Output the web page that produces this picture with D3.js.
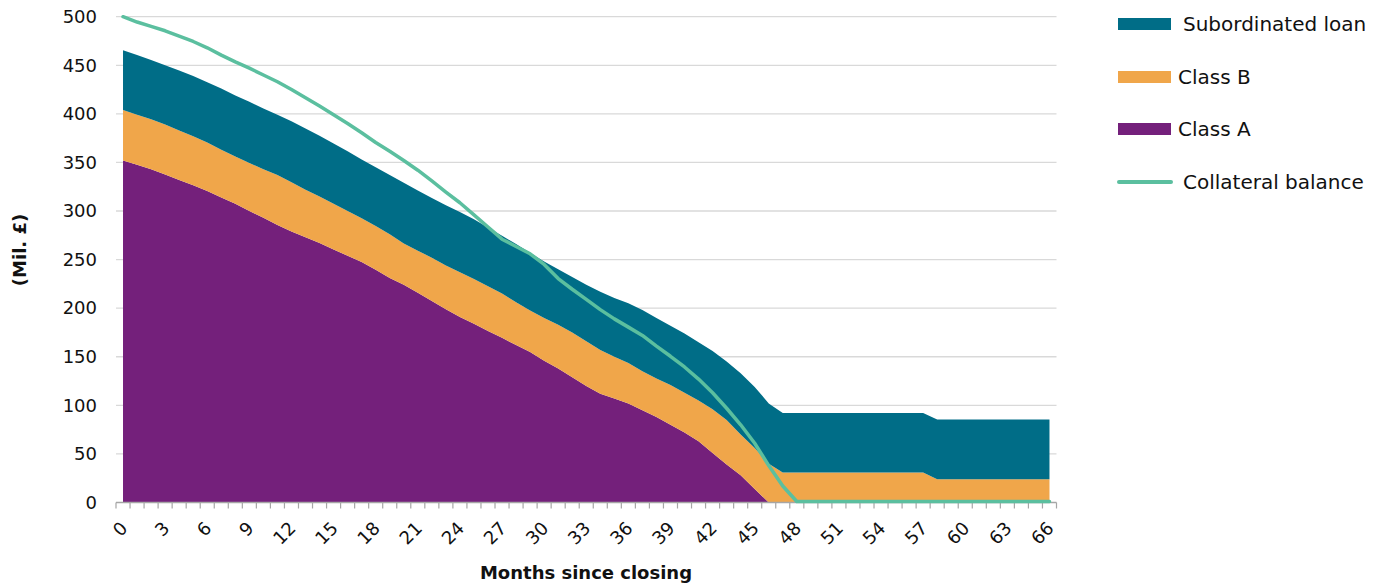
<!DOCTYPE html>
<html>
<head>
<meta charset="utf-8">
<script src="https://cdn.jsdelivr.net/npm/d3@7"></script>
<style>
  html, body { margin: 0; padding: 0; background: #fff; }
  svg { display: block; font-family: "DejaVu Sans", sans-serif; }
</style>
</head>
<body>
<svg id="chart" width="1387" height="586"></svg>
<script>
// ---- Data (Mil. £), months since closing 0..66 ----
const months = d3.range(0, 67);
const classA = [352,347.5,343,337.5,332,326.5,320.5,314,307.5,300,293,285.5,279,273,267,260.5,254,247.5,239.5,231,
  224,216,207.5,199,191,184,176.5,169.5,162,155,146,138,129,120,112,107,102,95,88,80,
  72,63,51,39,28,14,0,0,0,0,0,0,0,0,0,0,0,0,0,0,0,0,0,0,0,0,0];
const classB = [52,51.5,51.5,51.5,51,50.5,50,49,48.5,49.5,50,51.5,50.5,49,48,47,46,45,45,45,
  42.5,43,44.5,45,46,46,46,45.5,44,42.5,44,45,46,46,45,43,41.5,40,39.5,41,
  41,42,45,46,42,42,40,31,31,31,31,31,31,31,31,31,31,31,24,24,24,24,24,24,24,24,24];
const subLoan = [61.5,61.5,61,61,61.5,62,62,63,63,63,62.5,62,63,63,62.5,62,61.5,60.5,60.5,61,
  62.5,62,61.5,62,62,61.5,60.5,59.5,60,59.5,58,57,57,58,60,60.5,61.5,63,62.5,61,
  61,60,60,60,63,63,62,61,61,61,61,61,61,61,61,61,61,61,61.5,61.5,61.5,61.5,61.5,61.5,61.5,61.5,61.5];
const collateral = [500,494.5,490,485.5,480,474.5,468,460.5,453.5,447,440,433,425,416.5,408,399,390,380.5,370.5,361.5,
  352,342,331,319.5,308.5,296,283.5,271,263.5,256,245,230.5,219.5,209,198.5,189,180.5,172,161,150.5,
  139.5,127,113,97,80,61,38,17,1,1,1,1,1,1,1,1,1,1,1,1,1,1,1,1,1,1,1];
const yTicks = [0,50,100,150,200,250,300,350,400,450,500];
const xTickLabels = d3.range(0, 67, 3);
const seriesKeys = ["Class A", "Class B", "Subordinated loan"];
const seriesColors = {"Class A": "#74207b", "Class B": "#f0a64a", "Subordinated loan": "#006d87"};
const lineColor = "#5bbf9f";

// ---- Build table ----
const table = months.map((m, i) => ({
  month: m, "Class A": classA[i], "Class B": classB[i], "Subordinated loan": subLoan[i], collateral: collateral[i]
}));

const svg = d3.select("#chart");
const x = d3.scaleLinear().domain([-0.5, 66.5]).range([116, 1056.5]);
const y = d3.scaleLinear().domain([0, 500]).range([502.5, 16.7]);

// gridlines
svg.append("g").selectAll("line").data(yTicks.filter(d => d > 0)).join("line")
  .attr("x1", x(-0.5)).attr("x2", x(66.5))
  .attr("y1", d => y(d)).attr("y2", d => y(d))
  .attr("stroke", "#d9d9d9").attr("stroke-width", 1.3);

// y tick labels
svg.append("g").selectAll("text").data(yTicks).join("text")
  .attr("x", 97).attr("y", d => y(d)).attr("dy", "0.35em")
  .attr("text-anchor", "end").attr("font-size", 18).attr("fill", "#111")
  .text(d => d);

// stacked areas
const stack = d3.stack().keys(seriesKeys);
const stacked = stack(table);
const area = d3.area()
  .x(d => x(d.data.month))
  .y0(d => y(d[0])).y1(d => y(d[1]));
svg.append("g").selectAll("path").data(stacked).join("path")
  .attr("d", area).attr("fill", d => seriesColors[d.key]);

// x axis line + boundary ticks
const axisG = svg.append("g").attr("transform", `translate(0,${y(0)})`);
axisG.append("line").attr("x1", x(-0.5)).attr("x2", x(66.5))
  .attr("stroke", "#a6a6a6").attr("stroke-width", 1.3);
axisG.selectAll("line.tk").data(d3.range(-0.5, 67, 1)).join("line").attr("class", "tk")
  .attr("x1", d => x(d)).attr("x2", d => x(d)).attr("y1", 0).attr("y2", 6)
  .attr("stroke", "#a6a6a6").attr("stroke-width", 1.2);

// x tick labels
svg.append("g").selectAll("text").data(xTickLabels).join("text")
  .attr("transform", d => `translate(${x(d) + 1},${525}) rotate(-45)`)
  .attr("text-anchor", "end").attr("dy", "0.35em")
  .attr("font-size", 18).attr("fill", "#111")
  .text(d => d);

// collateral line
const line = d3.line().x(d => x(d.month)).y(d => y(d.collateral));
svg.append("path").datum(table).attr("d", line)
  .attr("fill", "none").attr("stroke", lineColor).attr("stroke-width", 3.5)
  .attr("stroke-linejoin", "round").attr("stroke-linecap", "round");

// axis titles
svg.append("text").attr("x", 586).attr("y", 573).attr("dy", "0.35em")
  .attr("text-anchor", "middle").attr("font-size", 18).attr("font-weight", "bold").attr("fill", "#111")
  .text("Months since closing");
svg.append("text").attr("transform", "translate(20,250) rotate(-90)").attr("dy", "0.35em")
  .attr("text-anchor", "middle").attr("font-size", 18).attr("font-weight", "bold").attr("fill", "#111")
  .text("(Mil. £)");

// legend
const legend = [
  {label: "Subordinated loan", key: "Subordinated loan", y: 24, tx: 1183},
  {label: "Class B", key: "Class B", y: 77, tx: 1178},
  {label: "Class A", key: "Class A", y: 129, tx: 1178}
];
const lg = svg.append("g");
lg.selectAll("rect").data(legend).join("rect")
  .attr("x", 1118).attr("y", d => d.y - 6).attr("width", 53).attr("height", 12)
  .attr("fill", d => seriesColors[d.key]);
lg.selectAll("text.l").data(legend).join("text").attr("class", "l")
  .attr("x", d => d.tx).attr("y", d => d.y).attr("dy", "0.35em")
  .attr("font-size", 20).attr("fill", "#111").text(d => d.label);
lg.append("line").attr("x1", 1119).attr("x2", 1171).attr("y1", 182).attr("y2", 182)
  .attr("stroke", lineColor).attr("stroke-width", 4).attr("stroke-linecap", "round");
lg.append("text").attr("x", 1183).attr("y", 182).attr("dy", "0.35em")
  .attr("font-size", 20).attr("fill", "#111").text("Collateral balance");
</script>
</body>
</html>
